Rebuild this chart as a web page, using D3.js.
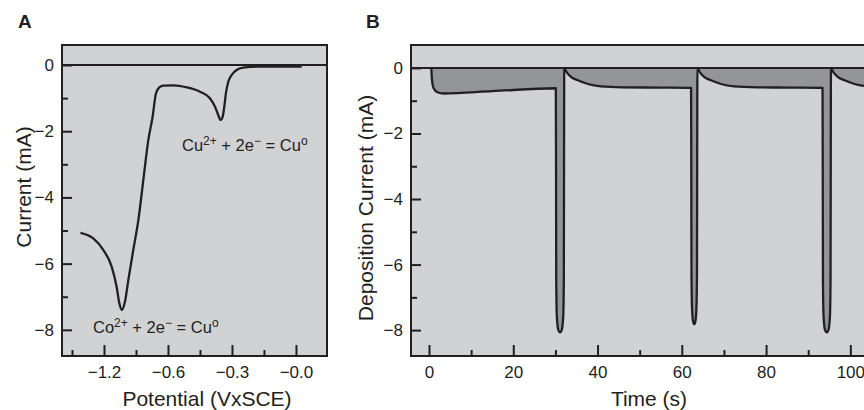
<!DOCTYPE html>
<html>
<head>
<meta charset="utf-8">
<script src="https://cdn.jsdelivr.net/npm/d3@7"></script>
<style>
  body { margin: 0; background: #fff; }
  svg { display: block; font-family: "Liberation Sans", Arial, sans-serif; }
</style>
</head>
<body>
<svg width="864" height="410"></svg>
<script>
// panel A: cyclic voltammogram
const potentialV = [-1.347, -1.267, -1.204, -1.152, -1.121, -1.104, -1.089, -1.069, -1.048, -1.017,
  -0.985, -0.954, -0.923, -0.896, -0.875, -0.854, -0.829, -0.767, -0.683, -0.600,
  -0.538, -0.506, -0.486, -0.471, -0.458, -0.448, -0.438, -0.423, -0.402, -0.371,
  -0.329, -0.246, 0.036];
const currentA = [-5.07, -5.24, -5.59, -6.09, -6.70, -7.20, -7.40, -7.15, -6.50, -5.59,
  -4.68, -3.47, -2.27, -1.56, -0.855, -0.674, -0.625, -0.613, -0.674, -0.807,
  -1.006, -1.26, -1.51, -1.66, -1.56, -1.26, -0.855, -0.505, -0.302, -0.151,
  -0.082, -0.051, -0.051];
// printed labels are not linear, so they sit on evenly spaced ticks
const xTicksA = [-1.2, -0.8, -0.4, 0];
const xTickLabelsA = ['\u22121.2', '\u22120.6', '\u22120.3', '\u22120.0'];
const xMinorA = [-1.4, -1.0, -0.6, -0.2];

// panel B: pulsed deposition current
const timeS = [0.55, 0.7, 1.1, 2, 3.5, 15, 30.1, 30.15, 30.2, 30.35, 30.7, 31.1, 31.5, 31.85, 32.0, 32.05, 32.1,
  32.2, 32.8, 33.7, 35.2, 37.7, 40.8, 46, 55, 62.2, 62.25, 62.3, 62.45, 62.7, 62.95, 63.2, 63.45, 63.6, 63.65, 63.7,
  63.8, 64.4, 65.3, 66.8, 69.3, 72.4, 78, 86, 93.4, 93.45, 93.5, 93.65, 94.0, 94.4, 94.8, 95.15, 95.3, 95.35, 95.4,
  95.5, 96.1, 97.0, 98.5, 101, 104, 109];
const currentB = [0, -0.35, -0.62, -0.74, -0.78, -0.71, -0.62, -3, -6.5, -7.6, -8.0, -8.07, -8.0, -7.6, -6.5, -3, 0,
  -0.02, -0.15, -0.27, -0.37, -0.49, -0.56, -0.59, -0.6, -0.61, -3, -6.3, -7.4, -7.75, -7.82, -7.75, -7.4, -6.3, -3, 0,
  -0.02, -0.15, -0.27, -0.37, -0.49, -0.56, -0.59, -0.6, -0.61, -3, -6.5, -7.6, -8.0, -8.07, -8.0, -7.6, -6.5, -3, 0,
  -0.02, -0.15, -0.27, -0.37, -0.49, -0.56, -0.59];
const xTicksB = [0, 20, 40, 60, 80, 100];
const xMinorB = [10, 30, 50, 70, 90];
const yTicks = [0, -2, -4, -6, -8];
const yMinor = [-1, -3, -5, -7];

const ink = '#231f20';
const svg = d3.select('svg');

function panel(box, x, y, opts) {
    const g = svg.append('g');
    g.append('rect')
        .attr('x', box.left).attr('y', box.top)
        .attr('width', box.right - box.left).attr('height', box.bottom - box.top)
        .attr('fill', '#d1d2d4');

    if (opts.area) {
        g.append('path')
            .datum(opts.data)
            .attr('fill', '#939598')
            .attr('d', d3.area().x(d => x(d[0])).y0(y(0)).y1(d => y(d[1])).curve(d3.curveMonotoneX));
    }

    // zero line
    g.append('line')
        .attr('x1', box.left).attr('x2', box.right)
        .attr('y1', y(0)).attr('y2', y(0))
        .attr('stroke', ink).attr('stroke-width', 2);

    g.append('path')
        .datum(opts.data)
        .attr('fill', 'none')
        .attr('stroke', ink)
        .attr('stroke-width', 2.3)
        .attr('stroke-linejoin', 'round')
        .attr('d', d3.line().x(d => x(d[0])).y(d => y(d[1])).curve(d3.curveMonotoneX));

    // y axis, ticks inside
    g.append('g').attr('transform', `translate(${box.left},0)`)
        .call(d3.axisLeft(y).tickValues(yTicks).tickSize(-10).tickPadding(8)
            .tickFormat(d => d === 0 ? '0' : '\u2212' + Math.abs(d)));
    g.append('g').attr('transform', `translate(${box.left},0)`)
        .call(d3.axisLeft(y).tickValues(yMinor).tickSize(-6).tickFormat(''));

    g.append('g').attr('transform', `translate(0,${box.bottom})`)
        .call(d3.axisBottom(x).tickValues(opts.xTicks).tickSize(-11).tickPadding(10)
            .tickFormat(opts.xFormat));
    g.append('g').attr('transform', `translate(0,${box.bottom})`)
        .call(d3.axisBottom(x).tickValues(opts.xMinor).tickSize(-6).tickFormat(''));

    g.selectAll('.domain').remove();
    g.selectAll('.tick line').attr('stroke', ink).attr('stroke-width', 2);
    g.selectAll('.tick text').attr('fill', ink).attr('font-size', 17)
        .attr('font-family', '"Liberation Sans", Arial, sans-serif');

    g.append('rect')
        .attr('x', box.left).attr('y', box.top)
        .attr('width', box.right - box.left).attr('height', box.bottom - box.top)
        .attr('fill', 'none').attr('stroke', ink).attr('stroke-width', 2);
    return g;
}

// ---- A ----
const boxA = {left: 62, top: 45, right: 327, bottom: 356};
const xA = d3.scaleLinear().domain([-1.4625, 0.194]).range([boxA.left, boxA.right]);
const yA = d3.scaleLinear().domain([0.604, -8.79]).range([boxA.top, boxA.bottom]);
panel(boxA, xA, yA, {
    data: potentialV.map((v, i) => [v, currentA[i]]),
    xTicks: xTicksA, xMinor: xMinorA,
    xFormat: (d, i) => xTickLabelsA[i]
});

// ---- B ----
const boxB = {left: 411, top: 45, right: 887, bottom: 356};
const xB = d3.scaleLinear().domain([-4.27, 108.7]).range([boxB.left, boxB.right]);
const yB = d3.scaleLinear().domain([0.70, -8.79]).range([boxB.top, boxB.bottom]);
panel(boxB, xB, yB, {
    data: timeS.map((t, i) => [t, currentB[i]]),
    area: true,
    xTicks: xTicksB, xMinor: xMinorB,
    xFormat: d => d
});

// labels
svg.append('text').attr('x', 18).attr('y', 28).attr('font-size', 19).attr('font-weight', 'bold')
    .attr('fill', ink).text('A');
svg.append('text').attr('x', 366).attr('y', 28).attr('font-size', 19).attr('font-weight', 'bold')
    .attr('fill', ink).text('B');

svg.append('text').attr('transform', 'translate(31,187) rotate(-90)')
    .attr('text-anchor', 'middle').attr('font-size', 21).attr('fill', ink).text('Current (mA)');
svg.append('text').attr('x', 207).attr('y', 406)
    .attr('text-anchor', 'middle').attr('font-size', 21).attr('fill', ink).text('Potential (VxSCE)');

svg.append('text').attr('transform', 'translate(373,208) rotate(-90)')
    .attr('text-anchor', 'middle').attr('font-size', 21).attr('fill', ink).text('Deposition Current (mA)');
svg.append('text').attr('x', 649).attr('y', 406)
    .attr('text-anchor', 'middle').attr('font-size', 21).attr('fill', ink).text('Time (s)');

function reaction(x, y, ion) {
    const t = svg.append('text').attr('x', x).attr('y', y).attr('font-size', 16.5).attr('fill', ink);
    t.append('tspan').text(ion);
    t.append('tspan').attr('font-size', 12).attr('dy', -6).text('2+');
    t.append('tspan').attr('dy', 6).text(' + 2e');
    t.append('tspan').attr('font-size', 12).attr('dy', -6).text('\u2212');
    t.append('tspan').attr('dy', 6).text(' = Cu');
    t.append('tspan').attr('font-size', 12).attr('dy', -6).text('o');
}
reaction(182, 151, 'Cu');
reaction(93, 333, 'Co');
</script>
</body>
</html>
